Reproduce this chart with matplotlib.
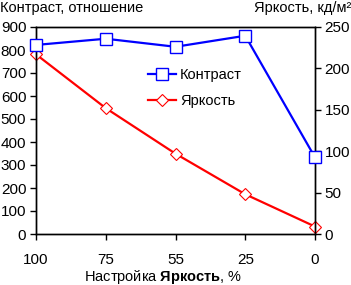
import matplotlib
matplotlib.use("Agg")
import matplotlib.pyplot as plt

plt.rcParams['font.family'] = ['Liberation Sans', 'DejaVu Sans']
plt.rcParams['font.size'] = 10.5
plt.rcParams['mathtext.fontset'] = 'custom'
plt.rcParams['mathtext.rm'] = 'Liberation Sans'
plt.rcParams['mathtext.bf'] = 'Liberation Sans:bold'

settings = ["100", "75", "55", "25", "0"]
contrast = [822, 849, 814, 862, 333]
brightness = [217, 152, 97, 48, 9]

fig = plt.figure(figsize=(3.51, 2.85), dpi=100)
ax = fig.add_axes([36 / 351, 51 / 285, 279 / 351, 207 / 285])
ax2 = ax.twinx()

x = range(len(settings))
ax.plot(x, contrast, color="#0000ff", lw=1.6, marker="s", ms=8,
        mfc="white", mec="#0000ff", mew=1.0, label="Контраст", zorder=3, clip_on=False)
ax2.plot(x, brightness, color="#ff0000", lw=1.6, marker="D", ms=6.5,
         mfc="white", mec="#ff0000", mew=0.8, label="Яркость", clip_on=False)
ax.set_zorder(ax2.get_zorder() + 1)
ax.patch.set_visible(False)

ax.set_xlim(0, 4)
ax.set_ylim(0, 900)
ax.set_yticks(range(0, 901, 100))
ax2.set_ylim(0, 250)
ax2.set_yticks(range(0, 251, 50))
ax.set_xticks(list(x))
ax.set_xticklabels(settings)

for a in (ax, ax2):
    a.tick_params(direction="out", length=4, width=1, pad=3, colors="black",
                  labelsize=11)
    for s in a.spines.values():
        s.set_linewidth(1)
ax.tick_params(axis="x", pad=10)

fig.text(0.0, 0.995, "Контраст, отношение", ha="left", va="top")
fig.text(1.0, 0.995, "Яркость, кд/м²", ha="right", va="top")
fig.text(163 / 351, 4 / 285, "Настройка $\\mathbf{Яркость}$, %",
         ha="center", va="baseline")

h1, l1 = ax.get_legend_handles_labels()
h2, l2 = ax2.get_legend_handles_labels()
ax.legend(h1 + h2, l1 + l2, loc="upper left", bbox_to_anchor=(0.38, 0.83),
          frameon=False, handlelength=1.9, handletextpad=0.3, labelspacing=0.85,
          borderaxespad=0)

fig.savefig("out.png", dpi=100)
